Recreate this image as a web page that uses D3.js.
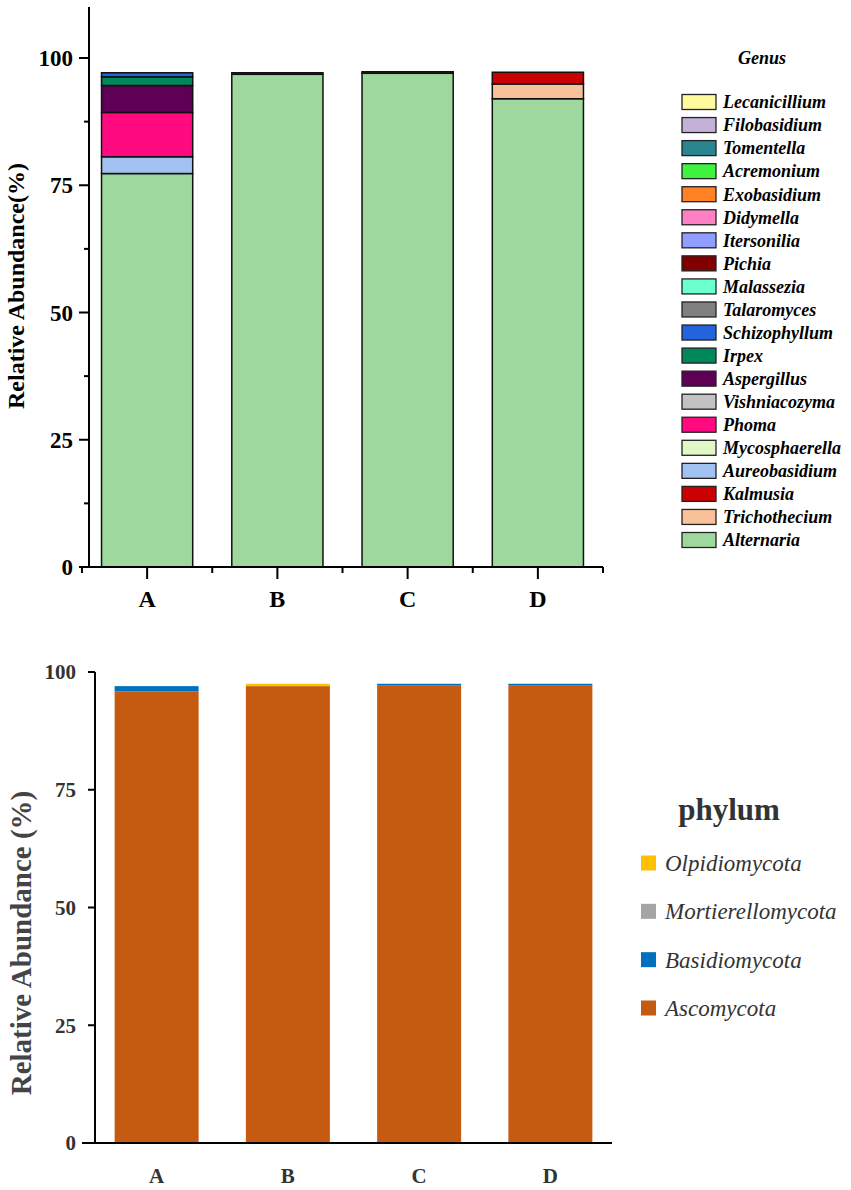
<!DOCTYPE html>
<html><head><meta charset="utf-8">
<script src="https://cdn.jsdelivr.net/npm/d3@7"></script>
<style>body{margin:0;background:#fff}svg{display:block}</style>
</head><body>
<svg id="c" width="851" height="1190" font-family="'Liberation Serif','DejaVu Serif',serif"></svg>
<script>
// ---------- DATA ----------
const samples = ["A", "B", "C", "D"];
// legend order (top to bottom); stacking is bottom-up in reverse order
const genera = ["Lecanicillium","Filobasidium","Tomentella","Acremonium","Exobasidium","Didymella","Itersonilia","Pichia","Malassezia","Talaromyces","Schizophyllum","Irpex","Aspergillus","Vishniacozyma","Phoma","Mycosphaerella","Aureobasidium","Kalmusia","Trichothecium","Alternaria"];
const genusColors = ["#FFFA9E","#C3B1D9","#2A8590","#3FF23F","#FF8224","#FF80C4","#8F9EFF","#800000","#6CFFD0","#808080","#2463DC","#00875C","#5E0056","#C2C2C2","#FF0A80","#E2F7C6","#A2C2F2","#CC0000","#F8C198","#9ED89C"];
// values per sample (A, B, C, D), % relative abundance
const Lecanicillium = [0, 0, 0, 0];
const Filobasidium  = [0, 0, 0, 0];
const Tomentella    = [0, 0, 0, 0];
const Acremonium    = [0, 0, 0, 0];
const Exobasidium   = [0, 0, 0, 0];
const Didymella     = [0, 0, 0, 0];
const Itersonilia   = [0, 0, 0, 0];
const Pichia        = [0, 0, 0, 0];
const Malassezia    = [0, 0, 0, 0];
const Talaromyces   = [0, 0, 0, 0];
const Schizophyllum = [0.8, 0, 0, 0];
const Irpex         = [1.7, 0, 0, 0];
const Aspergillus   = [5.3, 0, 0, 0];
const Vishniacozyma = [0, 0.3, 0, 0];
const Phoma         = [8.7, 0, 0, 0];
const Mycosphaerella= [0, 0, 0.3, 0];
const Aureobasidium = [3.3, 0, 0, 0];
const Kalmusia      = [0, 0, 0, 2.3];
const Trichothecium = [0, 0, 0, 2.9];
const Alternaria    = [77.3, 96.8, 97.0, 92.0];
const genusValues = [Lecanicillium,Filobasidium,Tomentella,Acremonium,Exobasidium,Didymella,Itersonilia,Pichia,Malassezia,Talaromyces,Schizophyllum,Irpex,Aspergillus,Vishniacozyma,Phoma,Mycosphaerella,Aureobasidium,Kalmusia,Trichothecium,Alternaria];
const genusTicks = [0, 25, 50, 75, 100];

const phyla = ["Olpidiomycota","Mortierellomycota","Basidiomycota","Ascomycota"];
const phylumColors = ["#FFC000","#A5A5A5","#0070C0","#C55A11"];
const Olpidiomycota     = [0, 0.5, 0, 0];
const Mortierellomycota = [0, 0, 0, 0];
const Basidiomycota     = [1.1, 0, 0.3, 0.4];
const Ascomycota        = [95.9, 97.0, 97.2, 97.1];
const phylumValues = [Olpidiomycota, Mortierellomycota, Basidiomycota, Ascomycota];
const phylumTicks = [0, 25, 50, 75, 100];

// ---------- DRAW ----------
const svg = d3.select("#c");

function stackData(names, values) {
  const rows = samples.map((s, i) => {
    const r = {sample: s};
    names.forEach((n, k) => r[n] = values[k][i]);
    return r;
  });
  const keys = names.slice().reverse(); // bottom-up
  return d3.stack().keys(keys)(rows);
}

// ===== Top chart: Genus =====
{
  const g = svg.append("g");
  const x = d3.scaleBand().domain(samples).range([82, 603]).paddingInner(0.3).paddingOuter(0.15);
  const y = d3.scaleLinear().domain([0, 100]).range([567, 58]);
  const color = d3.scaleOrdinal().domain(genera).range(genusColors);
  const series = stackData(genera, genusValues);
  series.forEach(s => {
    g.append("g").selectAll("rect").data(s.filter(d => d[1] - d[0] > 0)).join("rect")
      .attr("x", d => x(d.data.sample)).attr("width", x.bandwidth())
      .attr("y", d => y(d[1])).attr("height", d => y(d[0]) - y(d[1]))
      .attr("fill", color(s.key)).attr("stroke", "#111").attr("stroke-width", 1.5);
  });
  // y axis
  const yTop = y(110);
  g.append("line").attr("x1", 89).attr("x2", 89).attr("y1", yTop).attr("y2", 567).attr("stroke", "#000").attr("stroke-width", 2);
  const minor = d3.range(12.5, 100, 25);
  g.selectAll(".ymin").data(minor).join("line").attr("x1", 84).attr("x2", 89).attr("y1", d => y(d)).attr("y2", d => y(d)).attr("stroke", "#000").attr("stroke-width", 2);
  g.selectAll(".ymaj").data(genusTicks).join("line").attr("x1", 79).attr("x2", 89).attr("y1", d => y(d)).attr("y2", d => y(d)).attr("stroke", "#000").attr("stroke-width", 2);
  g.selectAll(".ylab").data(genusTicks).join("text").attr("x", 73).attr("y", d => y(d)).attr("dy", "0.35em")
    .attr("text-anchor", "end").attr("font-size", 23).attr("font-weight", "bold").text(d => d);
  // x axis
  g.append("line").attr("x1", 82).attr("x2", 603).attr("y1", 567).attr("y2", 567).attr("stroke", "#000").attr("stroke-width", 2);
  const bnd = [82].concat(samples.slice(1).map(s => x(s) - x.step() * 0.15)).concat([603]);
  g.selectAll(".xmin").data(bnd).join("line").attr("x1", d => d).attr("x2", d => d).attr("y1", 567).attr("y2", 573).attr("stroke", "#000").attr("stroke-width", 2);
  g.selectAll(".xmaj").data(samples).join("line").attr("x1", d => x(d) + x.bandwidth() / 2).attr("x2", d => x(d) + x.bandwidth() / 2)
    .attr("y1", 567).attr("y2", 579).attr("stroke", "#000").attr("stroke-width", 2);
  g.selectAll(".xlab").data(samples).join("text").attr("x", d => x(d) + x.bandwidth() / 2).attr("y", 607)
    .attr("text-anchor", "middle").attr("font-size", 24).attr("font-weight", "bold").text(d => d);
  g.append("text").attr("transform", "translate(24,286) rotate(-90)").attr("text-anchor", "middle")
    .attr("font-size", 24).attr("font-weight", "bold").text("Relative Abundance(%)");
  // legend
  g.append("text").attr("x", 762).attr("y", 64).attr("text-anchor", "middle").attr("font-size", 18)
    .attr("font-weight", "bold").attr("font-style", "italic").text("Genus");
  const ly = d3.scalePoint().domain(genera).range([102, 540]);
  const li = g.selectAll(".leg").data(genera).join("g").attr("transform", d => `translate(0,${ly(d)})`);
  li.append("rect").attr("x", 682).attr("y", -7.5).attr("width", 34).attr("height", 15)
    .attr("fill", d => color(d)).attr("stroke", "#222").attr("stroke-width", 1.3);
  li.append("text").attr("x", 723).attr("y", 0).attr("dy", "0.35em").attr("font-size", 18)
    .attr("font-weight", "bold").attr("font-style", "italic").text(d => d);
}

// ===== Bottom chart: Phylum =====
{
  const g = svg.append("g");
  const x = d3.scaleBand().domain(samples).range([91, 616]).paddingInner(0.36).paddingOuter(0.18);
  const y = d3.scaleLinear().domain([0, 100]).range([1143, 672]);
  const color = d3.scaleOrdinal().domain(phyla).range(phylumColors);
  const series = stackData(phyla, phylumValues);
  series.forEach(s => {
    g.append("g").selectAll("rect").data(s.filter(d => d[1] - d[0] > 0)).join("rect")
      .attr("x", d => x(d.data.sample)).attr("width", x.bandwidth())
      .attr("y", d => y(d[1])).attr("height", d => y(d[0]) - y(d[1]))
      .attr("fill", color(s.key));
  });
  g.append("line").attr("x1", 95).attr("x2", 95).attr("y1", y(100)).attr("y2", 1143).attr("stroke", "#000").attr("stroke-width", 2);
  g.selectAll(".ymaj").data(phylumTicks).join("line").attr("x1", 88).attr("x2", 95).attr("y1", d => y(d)).attr("y2", d => y(d)).attr("stroke", "#000").attr("stroke-width", 2);
  g.selectAll(".ylab").data(phylumTicks).join("text").attr("x", 76).attr("y", d => y(d)).attr("dy", "0.35em")
    .attr("text-anchor", "end").attr("font-size", 21).attr("font-weight", "bold").attr("fill", "#333").text(d => d);
  g.append("line").attr("x1", 82).attr("x2", 612).attr("y1", 1143).attr("y2", 1143).attr("stroke", "#000").attr("stroke-width", 2);
  g.selectAll(".xlab").data(samples).join("text").attr("x", d => x(d) + x.bandwidth() / 2).attr("y", 1183)
    .attr("text-anchor", "middle").attr("font-size", 21).attr("font-weight", "bold").attr("fill", "#333").text(d => d);
  g.append("text").attr("transform", "translate(31,943) rotate(-90)").attr("text-anchor", "middle")
    .attr("font-size", 29).attr("font-weight", "bold").attr("fill", "#444").text("Relative Abundance (%)");
  g.append("text").attr("x", 729).attr("y", 820).attr("text-anchor", "middle").attr("font-size", 31)
    .attr("font-weight", "bold").attr("fill", "#333").text("phylum");
  const ly = d3.scalePoint().domain(phyla).range([863, 1008]);
  const li = g.selectAll(".leg").data(phyla).join("g").attr("transform", d => `translate(0,${ly(d)})`);
  li.append("rect").attr("x", 641).attr("y", -7.5).attr("width", 15).attr("height", 15).attr("fill", d => color(d));
  li.append("text").attr("x", 665).attr("y", 0).attr("dy", "0.35em").attr("font-size", 23)
    .attr("font-style", "italic").attr("fill", "#333").text(d => d);
}
</script>
</body></html>
